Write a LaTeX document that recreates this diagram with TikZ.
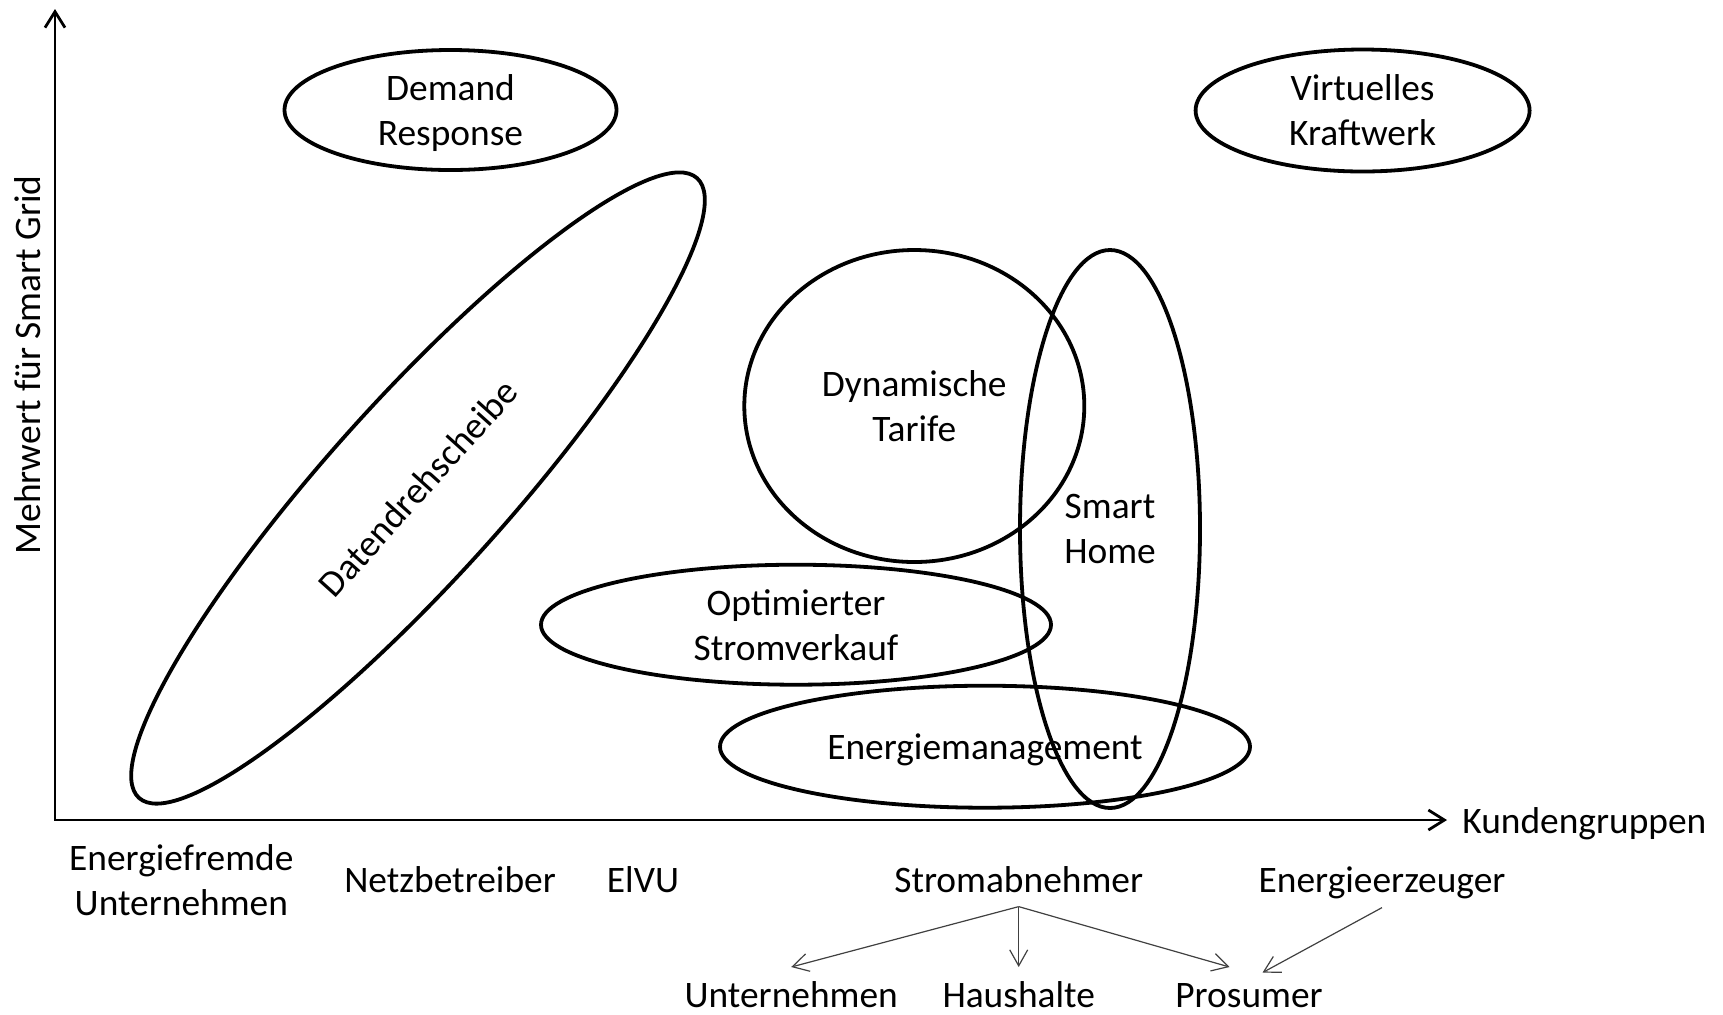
\documentclass[tikz,border=0pt]{standalone}
\usepackage{fontspec}
\setmainfont{Carlito}
\usetikzlibrary{shapes.geometric,arrows.meta}
\begin{document}
\begin{tikzpicture}[x=0.5pt,y=-0.5pt,
  every node/.style={font=\fontsize{18.7}{22.5}\selectfont, inner sep=0pt},
  blob/.style={draw, ellipse, line width=1.9pt, align=center},
  axisline/.style={line width=1.4pt, {Straight Barb[length=8pt,width=10pt]}-{Straight Barb[length=8pt,width=10pt]}},
  lbl/.style={anchor=base},
  subarrow/.style={draw=black!75, line width=0.6pt, -{Straight Barb[length=8pt,width=9pt]}}
]
\useasboundingbox (0,0) rectangle (1723,1014);

% axes
\coordinate (O) at (55,820);
\coordinate (ytop) at (55,9);
\coordinate (xend) at (1447,820);
\draw[axisline] (ytop) -- (O) -- (xend);

\node[anchor=base west] (kg) at (1462,833) {Kundengruppen};
\node[rotate=90, anchor=base] (mw) at (40.7,365) {Mehrwert für Smart Grid};

% ellipses
\node[blob, text depth=0pt, minimum width=166pt, minimum height=60pt] (dr) at (450.5,110) {Demand\\Response};
\node[blob, minimum width=167pt, minimum height=61pt] (vk) at (1362.6,110.5) {Virtuelles\\Kraftwerk};
\node[blob, rotate=48, minimum width=417pt, minimum height=89pt] (dd) at (418,488) {Datendrehscheibe};
\node[blob, minimum width=170pt, minimum height=156pt] (dt) at (914.3,406) {Dynamische\\Tarife};
\node[blob, minimum width=90pt, minimum height=279pt] (sh) at (1110,529) {Smart\\Home};
\node[blob, minimum width=255pt, minimum height=60pt] (os) at (796,624.7) {Optimierter\\Stromverkauf};
\node[blob, text depth=0pt, minimum width=265pt, minimum height=61pt] (em) at (985,746.7) {Energiemanagement};

% customer groups
\node[align=center] (ef) at (181.3,880) {Energiefremde\\Unternehmen};
\node[lbl] (nb) at (450,892) {Netzbetreiber};
\node[lbl] (elvu) at (643,892) {ElVU};
\node[lbl] (sa) at (1018.7,892) {Stromabnehmer};
\node[lbl] (ee) at (1382,892) {Energieerzeuger};

\node[lbl] (un) at (791.2,1007) {Unternehmen};
\node[lbl] (hh) at (1018.7,1007) {Haushalte};
\node[lbl] (pr) at (1249,1007) {Prosumer};

\draw[subarrow] ([yshift=-7.3pt]sa.base) -- ([yshift=20pt]un.base);
\draw[subarrow] ([yshift=-7.3pt]sa.base) -- ([yshift=20pt]hh.base);
\draw[subarrow] ([yshift=-7.3pt]sa.base) -- ([xshift=-9.75pt,yshift=20pt]pr.base);
\draw[subarrow] ([yshift=-7.8pt]ee.base) -- ([xshift=6.75pt,yshift=17.2pt]pr.base);
\end{tikzpicture}
\end{document}
